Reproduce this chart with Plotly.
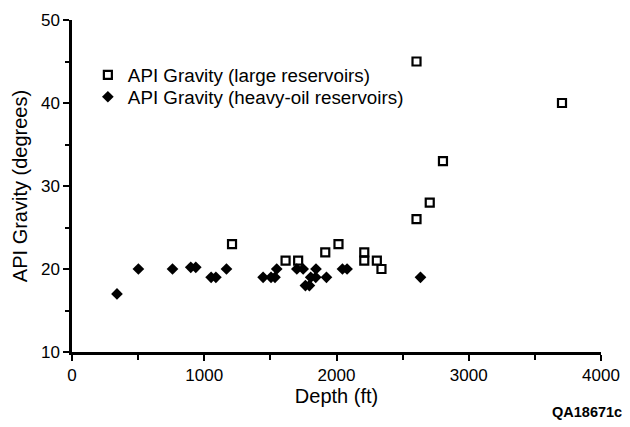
import plotly.graph_objects as go

large_depth = [1210, 1615, 1710, 1915, 2015, 2210, 2210, 2305, 2340, 2605, 2605, 2705, 2805, 3705]
large_api = [23, 21, 21, 22, 23, 22, 21, 21, 20, 26, 45, 28, 33, 40]

heavy_depth = [340, 502, 760, 898, 936, 1052, 1088, 1168, 1445, 1505, 1535, 1548, 1700,
               1748, 1765, 1795, 1805, 1843, 1845, 1924, 2045, 2080, 2635]
heavy_api = [17, 20, 20, 20.2, 20.2, 19, 19, 20, 19, 19, 19, 20, 20,
             20, 18, 18, 19, 19, 20, 19, 20, 20, 19]

x_ticks = [0, 1000, 2000, 3000, 4000]
y_ticks = [10, 20, 30, 40, 50]

FONT = "Liberation Sans, Arial, Helvetica, sans-serif"

fig = go.Figure()
fig.add_trace(go.Scatter(
    x=large_depth, y=large_api, mode="markers",
    name="API Gravity (large reservoirs)", legend="legend",
    marker=dict(symbol="square-open", size=8, color="black", line=dict(width=2.2, color="black")),
))
fig.add_trace(go.Scatter(
    x=heavy_depth, y=heavy_api, mode="markers",
    name="API Gravity (heavy-oil reservoirs)", legend="legend2",
    marker=dict(symbol="diamond", size=9, color="black"),
))

leg_common = dict(xanchor="left", yanchor="middle", bgcolor="rgba(0,0,0,0)",
                  font=dict(size=18.8, family=FONT, color="black"), itemsizing="trace")

# page body has an 8px default margin, so the figure is made 8px smaller on each side
fig.update_layout(
    width=622, height=419,
    margin=dict(l=64, r=29, t=12, b=75),
    paper_bgcolor="white", plot_bgcolor="white",
    font=dict(family=FONT, color="black", size=17),
    showlegend=True,
    legend=dict(x=0.03, y=0.834, **leg_common),
    legend2=dict(x=0.03, y=0.768, **leg_common),
    xaxis=dict(range=[0, 4000], tickvals=x_ticks, ticktext=[str(v) for v in x_ticks],
               automargin=False,
               showgrid=False, zeroline=False, showline=True, linecolor="black", linewidth=2.5,
               ticks="outside", ticklen=6, tickwidth=2, tickcolor="black",
               minor=dict(dtick=500, ticks="outside", ticklen=5, tickwidth=1.5, tickcolor="black"),
               title=dict(text="Depth (ft)", font=dict(size=20, family=FONT), standoff=2),
               tickfont=dict(size=17, family=FONT)),
    yaxis=dict(range=[10, 50], tickvals=y_ticks, ticktext=[str(v) for v in y_ticks],
               automargin=False,
               showgrid=False, zeroline=False, showline=True, linecolor="black", linewidth=2.5,
               ticks="outside", ticklen=6, tickwidth=2, tickcolor="black",
               minor=dict(dtick=5, ticks="outside", ticklen=4, tickwidth=1.5, tickcolor="black"),
               title=dict(text="API Gravity (degrees)", font=dict(size=20, family=FONT), standoff=8),
               tickfont=dict(size=17, family=FONT)),
    annotations=[dict(text="<b>QA18671c</b>", xref="paper", yref="paper", x=1.044, y=-0.18,
                      xanchor="right", yanchor="middle", showarrow=False,
                      font=dict(size=14.5, family=FONT, color="black"))],
)

fig.write_html("out.html")
